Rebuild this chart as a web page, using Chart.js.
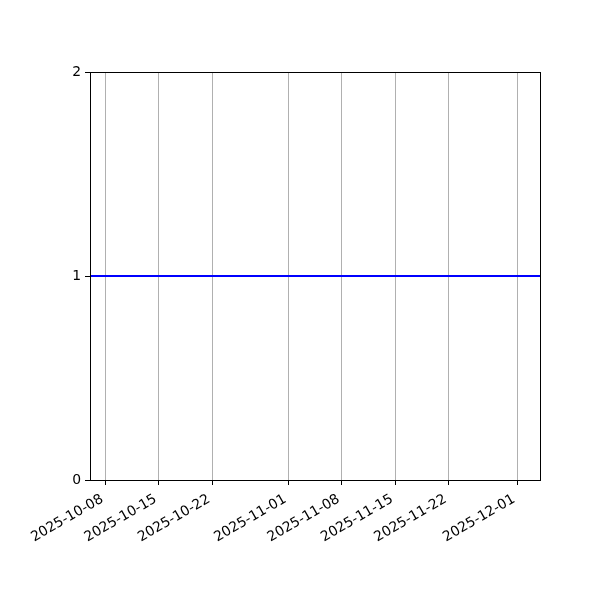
<!DOCTYPE html>
<html>
<head>
<meta charset="utf-8">
<script src="https://cdn.jsdelivr.net/npm/chart.js@4/dist/chart.umd.min.js"></script>
<style>
  html, body { margin: 0; padding: 0; background: #fff; }
  #wrap { width: 600px; height: 600px; }
</style>
</head>
<body>
<div id="wrap"><canvas id="lineChart" width="600" height="600"></canvas></div>
<script>
// data
const dates = ["2025-10-06", "2025-12-04"];
const values = [1, 1];
const tickDates = ["2025-10-08", "2025-10-15", "2025-10-22", "2025-11-01",
  "2025-11-08", "2025-11-15", "2025-11-22", "2025-12-01"];
const yTicks = [0, 1, 2];
const xMin = "2025-10-06";
const xMax = "2025-12-04";

const toMs = (d) => Date.parse(d + "T00:00:00Z");
const fmt = (ms) => new Date(ms).toISOString().slice(0, 10);

// matplotlib-like frame around the plot area
const frame = {
  id: "frame",
  afterDatasetsDraw(chart) {
    const { ctx, chartArea } = chart;
    const l = Math.round(chartArea.left) + 0.5;
    const t = Math.round(chartArea.top) + 0.5;
    const r = Math.round(chartArea.right) + 0.5;
    const b = Math.round(chartArea.bottom) + 0.5;
    ctx.save();
    ctx.strokeStyle = "#000";
    ctx.lineWidth = 1;
    ctx.strokeRect(l, t, r - l, b - t);
    ctx.restore();
  },
};

const ctx = document.getElementById("lineChart").getContext("2d");
new Chart(ctx, {
  type: "line",
  data: {
    datasets: [
      {
        data: dates.map((d, i) => ({ x: toMs(d), y: values[i] })),
        borderColor: "#0000ff",
        borderWidth: 2,
        pointRadius: 0,
        tension: 0,
        clip: false,
      },
    ],
  },
  options: {
    responsive: false,
    animation: false,
    devicePixelRatio: 1,
    layout: { padding: { left: 0, right: 60, top: 72, bottom: 0 } },
    plugins: { legend: { display: false }, tooltip: { enabled: false } },
    scales: {
      x: {
        type: "linear",
        min: toMs(xMin),
        max: toMs(xMax),
        afterBuildTicks: (axis) => {
          axis.ticks = tickDates.map((d) => ({ value: toMs(d) }));
        },
        afterFit: (axis) => { axis.height = 120; },
        grid: {
          color: "#b0b0b0",
          lineWidth: 1,
          tickColor: "#000",
          tickLength: 5,
        },
        border: { display: false },
        ticks: {
          autoSkip: false,
          minRotation: 30,
          maxRotation: 30,
          padding: 6,
          labelOffset: -3,
          color: "#000",
          font: { family: "DejaVu Sans", size: 13.9 },
          callback: (v) => fmt(v),
        },
      },
      y: {
        min: 0,
        max: 2,
        afterBuildTicks: (axis) => {
          axis.ticks = yTicks.map((v) => ({ value: v }));
        },
        afterFit: (axis) => { axis.width = 90; },
        grid: {
          drawOnChartArea: false,
          tickColor: "#000",
          tickLength: 5,
        },
        border: { display: false },
        ticks: {
          padding: 4,
          color: "#000",
          font: { family: "DejaVu Sans", size: 13.9 },
        },
      },
    },
  },
  plugins: [frame],
});
</script>
</body>
</html>
